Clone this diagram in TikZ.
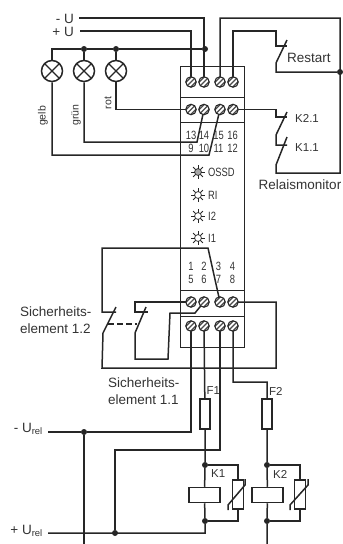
\documentclass[tikz,border=0pt]{standalone}
\usepackage{fontspec}
\setmainfont{Liberation Sans}
\definecolor{strich}{HTML}{262626}
\definecolor{schrift}{HTML}{333333}
\tikzset{
  wire/.style={line width=1.5pt,color=strich,line join=miter},
  thin wire/.style={line width=1.1pt,color=strich},
  gehaeuse/.style={line width=.85pt,color=strich},
  punkt/.style={circle,fill=strich,inner sep=0pt,minimum size=6pt},
  klemme/.style={circle,draw=strich,line width=1.1pt,fill=white,inner sep=0pt,minimum size=10.5pt,
    path picture={
      \foreach \d in {-2.4,0,2.4}
        \draw[line width=1.2pt,color=gray!60!black]
          ([shift={(-6+\d,6+\d)}]path picture bounding box.center) -- ([shift={(6+\d,-6+\d)}]path picture bounding box.center);
    }},
  lampe/.style={circle,draw=strich,line width=1.5pt,fill=white,inner sep=0pt,minimum size=21pt,
    path picture={
      \draw[line width=1.1pt,color=strich] (path picture bounding box.north west) -- (path picture bounding box.south east);
      \draw[line width=1.1pt,color=strich] (path picture bounding box.north east) -- (path picture bounding box.south west);
    }},
  sicherung/.style={rectangle,draw=strich,line width=1.5pt,fill=white,inner sep=0pt,minimum width=10pt,minimum height=30pt},
  spule/.style={rectangle,draw=strich,line width=1.5pt,fill=white,inner sep=0pt,minimum width=31pt,minimum height=15pt},
  varistor/.style={rectangle,draw=strich,line width=1.5pt,fill=white,inner sep=0pt,minimum width=11pt,minimum height=29pt},
  label/.style={color=schrift,font=\fontsize{13.5}{14}\selectfont,inner sep=0pt},
  klein/.style={color=schrift,font=\fontsize{11.5}{12}\selectfont,inner sep=0pt},
  quer/.style={color=schrift,font=\fontsize{10.5}{11}\selectfont,inner sep=0pt,rotate=90},
  nummer/.style={color=schrift,font=\fontsize{12}{13}\selectfont,inner sep=0pt,xscale=.78},
  led/.pic={
    \draw[line width=.7pt,color=strich,fill=#1] (0,0) circle (3.4pt);
    \foreach \w in {0,45,...,315}
      \draw[line width=.8pt,color=strich] (\w:3.4pt) -- (\w:7pt);
  }
}
\begin{document}
\begin{tikzpicture}[x=1pt,y=-1pt]
  \useasboundingbox (0,0) rectangle (343,544);

  % Gehaeuse
  \draw[gehaeuse] (180,66) rectangle (244,347);
  \draw[gehaeuse] (180,97) -- (244,97);
  \draw[gehaeuse] (180,122) -- (244,122);
  \draw[gehaeuse] (180,290) -- (244,290);
  \draw[gehaeuse] (180,316) -- (244,316);

  % Beschriftung im Gehaeuse
  \foreach \x/\a/\b/\c/\d in {191/13/9/1/5,204/14/10/2/6,218.5/15/11/3/7,232.5/16/12/4/8} {
    \node[nummer] (na\a) at (\x,135) {\a};
    \node[nummer] (nb\b) at (\x,148) {\b};
    \node[nummer] (nc\c) at (\x,266) {\c};
    \node[nummer] (nd\d) at (\x,279) {\d};
  }
  \pic at (198,172) {led=gray!70};
  \pic at (198,195) {led=white};
  \pic at (198,216) {led=white};
  \pic at (198,238) {led=white};
  \node[nummer,anchor=west] (tossd) at (208,172) {OSSD};
  \node[nummer,anchor=west] (tri) at (208,195) {RI};
  \node[nummer,anchor=west] (tzwei) at (208,216) {I2};
  \node[nummer,anchor=west] (teins) at (208,238) {I1};

  % Klemmen
  \foreach \i/\x in {1/191,2/204,3/220,4/233} {
    \coordinate (pa\i) at (\x,82);
    \coordinate (pb\i) at (\x,109.5);
    \coordinate (pc\i) at (\x,302);
    \coordinate (pd\i) at (\x,326);
  }

  % Versorgung
  \node[label,anchor=east] (tminus) at (74,19) {- U};
  \node[label,anchor=east] (tplus) at (74,32) {+ U};
  \coordinate (minusU) at (79,18);
  \coordinate (plusU) at (80,31);
  \node[punkt] (jbus) at (205,49) {};
  \node[punkt] (jgruen) at (84,49) {};
  \node[punkt] (jrot) at (116,49) {};
  \node[lampe] (lgelb) at (52,71) {};
  \node[lampe] (lgruen) at (84,71) {};
  \node[lampe] (lrot) at (116,71) {};
  \draw[wire] (minusU) -| (pa2);
  \draw[wire] (plusU) -| (pa1);
  \draw[wire] (jbus) -- (jrot) -- (jgruen) -- (52,49) -- (lgelb);
  \draw[wire] (jgruen) -- (lgruen);
  \draw[wire] (jrot) -- (lrot);

  % Meldeausgaenge
  \draw[wire] (lrot) |- (pb1);
  \draw[wire] (lgruen) |- (197,142) -- (pb2);
  \draw[wire] (lgelb) |- (209,155) -- (pb3);
  \node[quer] (tgelb) at (43,116) {gelb};
  \node[quer] (tgr) at (76,115) {grün};
  \node[quer] (trot) at (108,103) {rot};

  % Restart
  \coordinate (rechts) at (340,18);
  \node[punkt] (jrestart) at (340,72) {};
  \draw[wire] (pa3) |- (rechts) -- (340,173) -- (276,173) -- (276,165) -- (287,137);
  \draw[wire] (pa4) |- (276,31) -- (276,46) -- (287,46);
  \draw[wire] (287,40) -- (276,63) -- (276,72) -- (jrestart);
  \node[label,anchor=west] (trestart) at (287,58) {Restart};

  % Relaismonitor
  \draw[wire] (pb4) -- (276,109.5) -- (276,117) -- (287,117);
  \draw[wire] (287,112) -- (276,135) -- (276,145) -- (287,145);
  \node[klein,anchor=west] (tkzwei) at (295,118) {K2.1};
  \node[klein,anchor=west] (tkeins) at (295,148) {K1.1};
  \node[label] (tmonitor) at (300,185) {Relaismonitor};

  % Sicherheitselement 1.2
  \draw[wire] (pc3) -- (208,248) -- (102,248) -- (102,312) -- (116,312);
  \draw[wire] (116,307) -- (103,333) -- (102,368) -- (276,368) -- (276,302) -- (pc4);
  \draw[wire] (pc1) -- (135,302) -- (135,312) -- (148,312);
  \draw[wire] (146,307) -- (135,333) -- (135,359) -- (168,359) -- (170,313) -- (195,313) -- (pc2);
  \draw[wire,dashed,dash pattern=on 6pt off 3pt] (108,324) -- (137,324);
  \node[label,anchor=west] (tsie) at (20,312) {Sicherheits-};
  \node[label,anchor=west] (tsif) at (20,329) {element 1.2};
  \node[label,anchor=west] (tsig) at (108,383) {Sicherheits-};
  \node[label,anchor=west] (tsih) at (108,400) {element 1.1};

  % Lastkreis
  \node[label,anchor=east] (turel) at (43,429) {- U\textsubscript{rel}};
  \node[label,anchor=east] (turelp) at (43,531) {+ U\textsubscript{rel}};
  \coordinate (minusrel) at (48,432);
  \coordinate (plusrel) at (48,533);
  \node[punkt] (jminus) at (84,432) {};
  \node[punkt] (jplus) at (115,533) {};
  \node[sicherung] (fone) at (205,414) {};
  \node[sicherung] (ftwo) at (267,414) {};
  \node[klein,anchor=west] (tfone) at (206.5,391) {F1};
  \node[klein,anchor=west] (tftwo) at (269,391) {F2};
  \node[punkt] (jkao) at (205,465) {};
  \node[punkt] (jkau) at (205,521) {};
  \node[punkt] (jkbo) at (267,465) {};
  \node[punkt] (jkbu) at (267,521) {};
  \node[spule] (kone) at (204.5,495) {};
  \node[spule] (ktwo) at (267.5,495) {};
  \node[varistor] (vone) at (238,494.5) {};
  \node[varistor] (vtwo) at (300,494.5) {};
  \node[klein,anchor=west] (tkone) at (211,474) {K1};
  \node[klein,anchor=west] (tktwo) at (273,474) {K2};
  \coordinate (untenA) at (84,544);
  \coordinate (untenB) at (267,544);
  \draw[wire] (minusrel) -- (jminus) -- (191,432) -- (pd1);
  \draw[wire] (jminus) -- (untenA);
  \draw[wire] (pd2) -- (fone) -- (jkao) -- (kone) -- (jkau) -- (205,533) -- (plusrel);
  \draw[wire] (pd3) -- (220,450) -- (115,450) -- (jplus);
  \draw[wire] (pd4) -- (233,382) -- (267,382) -- (ftwo) -- (jkbo) -- (ktwo) -- (jkbu) -- (untenB);
  \draw[thin wire] (jkao) -| (vone);
  \draw[thin wire] (jkau) -| (vone);
  \draw[thin wire] (jkbo) -| (vtwo);
  \draw[thin wire] (jkbu) -| (vtwo);
  \draw[wire] (228,510) -- (228,505) -- (245,485) -- (245,479);
  \draw[wire] (290,510) -- (290,505) -- (308,485) -- (308,479);

  % Schrauben
  \foreach \i in {1,...,4} {
    \node[klemme] (ka\i) at (pa\i) {};
    \node[klemme] (kb\i) at (pb\i) {};
    \node[klemme] (kc\i) at (pc\i) {};
    \node[klemme] (kd\i) at (pd\i) {};
  }
\end{tikzpicture}
\end{document}
